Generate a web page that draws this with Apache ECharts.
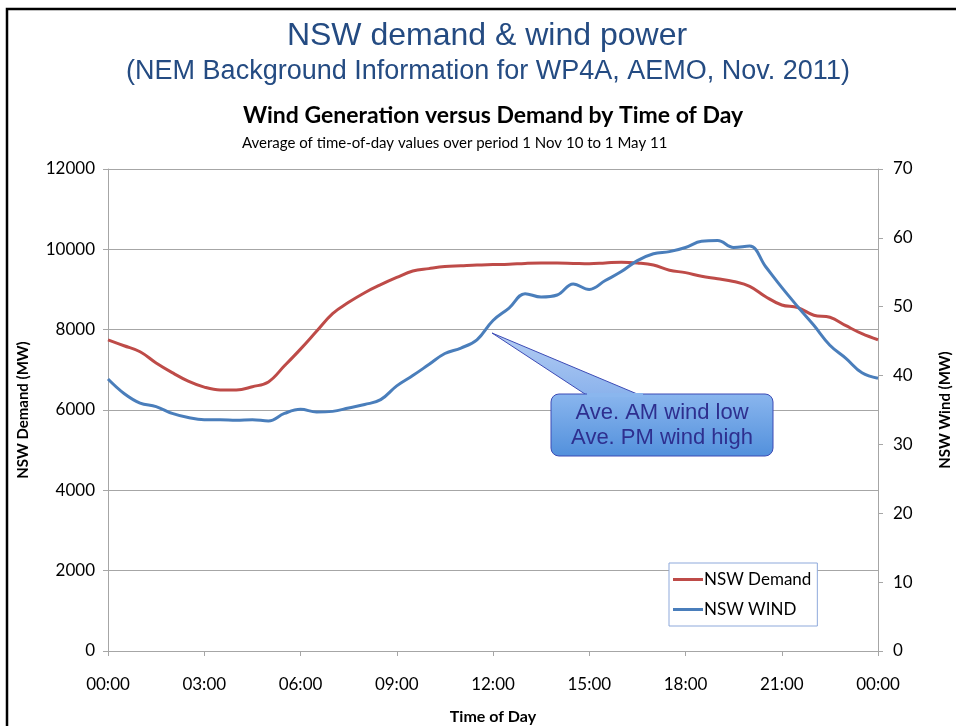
<!DOCTYPE html>
<html>
<head>
<meta charset="utf-8">
<script src="https://cdn.jsdelivr.net/npm/echarts@6/dist/echarts.min.js"></script>
<style>
html,body{margin:0;padding:0;background:#fff;overflow:hidden;}
#chart{width:956px;height:726px;}
</style>
</head>
<body>
<div id="chart"></div>
<script>
// Half-hour time points (00:00 .. 24:00)
const timeLabels = ["00:00","00:30","01:00","01:30","02:00","02:30","03:00","03:30","04:00","04:30","05:00","05:30",
  "06:00","06:30","07:00","07:30","08:00","08:30","09:00","09:30","10:00","10:30","11:00","11:30",
  "12:00","12:30","13:00","13:30","14:00","14:30","15:00","15:30","16:00","16:30","17:00","17:30",
  "18:00","18:30","19:00","19:30","20:00","20:30","21:00","21:30","22:00","22:30","23:00","23:30","00:00"];

// NSW Demand (MW), left axis
const demand = [7744,7600,7450,7170,6930,6720,6570,6500,6500,6580,6700,7100,
  7516,7960,8400,8680,8920,9120,9300,9460,9520,9570,9590,9610,
  9620,9630,9650,9660,9660,9650,9640,9660,9680,9660,9610,9480,
  9420,9330,9270,9200,9080,8820,8615,8550,8360,8310,8100,7900,7750];

// NSW Wind (MW), right axis
const wind = [39.5,37.4,36.0,35.5,34.5,33.9,33.6,33.6,33.5,33.6,33.4,34.5,
  35.1,34.7,34.8,35.3,35.8,36.5,38.5,40.0,41.6,43.2,44.0,45.2,
  48.0,49.8,51.9,51.4,51.7,53.3,52.5,53.8,55.1,56.7,57.7,58.0,
  58.6,59.5,59.6,58.6,58.8,55.8,52.8,50.0,47.3,44.4,42.5,40.4,39.6];

const leftTicks = {min:0, max:12000, interval:2000};
const rightTicks = {min:0, max:70, interval:10};

const chart = echarts.init(document.getElementById('chart'), null, {renderer:'canvas'});
const lab = 'Lato, "Open Sans", sans-serif';
const arial = '"Liberation Sans", Arial, sans-serif';
const gridLine = '#A6A6A6';

chart.setOption({
  backgroundColor:'#ffffff',
  animation:false,
  title:[
    {text:'NSW demand & wind power', left:482, top:15, textAlign:'center',
     textStyle:{fontFamily:arial, fontSize:32, fontWeight:'normal', color:'#244B82'}},
    {text:'(NEM Background Information for WP4A, AEMO, Nov. 2011)', left:483, top:53, textAlign:'center',
     textStyle:{fontFamily:arial, fontSize:27, fontWeight:'normal', color:'#244B82'}},
    {text:'Wind Generation versus Demand by Time of Day', left:488, top:99, textAlign:'center',
     textStyle:{fontFamily:lab, fontSize:23, fontWeight:'bold', color:'#000'}},
    {text:'Average of time-of-day values over period 1 Nov 10 to 1 May 11', left:237, top:131,
     textStyle:{fontFamily:lab, fontSize:15, fontWeight:'normal', color:'#000'}}
  ],
  grid:{left:108, right:78, top:169, bottom:75, containLabel:false, outerBoundsMode:'none'},
  legend:{
    orient:'vertical', left:669, top:563, width:151,
    padding:[8,6,8,4], itemGap:13,
    backgroundColor:'#fff', borderColor:'#8EA9DB', borderWidth:1,
    icon:'rect', itemWidth:30, itemHeight:3,
    textStyle:{fontFamily:lab, fontSize:17, color:'#000', padding:[0,0,0,-4]},
    data:['NSW Demand','NSW WIND']
  },
  xAxis:{
    type:'category', data:timeLabels, boundaryGap:false,
    name:'Time of Day', nameLocation:'middle', nameGap:58,
    nameTextStyle:{fontFamily:lab, fontSize:16, fontWeight:'bold', color:'#000'},
    axisLine:{lineStyle:{color:gridLine, width:1}},
    axisTick:{show:true, interval:5, length:5, lineStyle:{color:gridLine}},
    axisLabel:{interval:5, margin:25, fontFamily:lab, fontSize:17, color:'#000'},
    splitLine:{show:false}
  },
  yAxis:[
    {type:'value', position:'left', min:leftTicks.min, max:leftTicks.max, interval:leftTicks.interval,
     name:'NSW Demand (MW)', nameLocation:'middle', nameGap:77, nameRotate:90,
     nameTextStyle:{fontFamily:lab, fontSize:15, fontWeight:'bold', color:'#000'},
     axisLine:{show:true, lineStyle:{color:gridLine}},
     axisTick:{show:true, length:5, lineStyle:{color:gridLine}},
     axisLabel:{margin:13, fontFamily:lab, fontSize:17, color:'#000', formatter:v=>String(v)},
     splitLine:{show:true, lineStyle:{color:gridLine, width:1}}},
    {type:'value', position:'right', min:rightTicks.min, max:rightTicks.max, interval:rightTicks.interval,
     name:'NSW Wind (MW)', nameLocation:'middle', nameGap:60, nameRotate:90,
     nameTextStyle:{fontFamily:lab, fontSize:15, fontWeight:'bold', color:'#000'},
     axisLine:{show:true, lineStyle:{color:gridLine}},
     axisTick:{show:true, length:5, lineStyle:{color:gridLine}},
     axisLabel:{margin:15, fontFamily:lab, fontSize:17, color:'#000'},
     splitLine:{show:false}}
  ],
  series:[
    {name:'NSW Demand', type:'line', yAxisIndex:0, data:demand, smooth:0.4, showSymbol:false,
     lineStyle:{color:'#BE4B48', width:3}, itemStyle:{color:'#BE4B48'}, z:3},
    {name:'NSW WIND', type:'line', yAxisIndex:1, data:wind, smooth:0.4, showSymbol:false,
     lineStyle:{color:'#4A7EBB', width:3}, itemStyle:{color:'#4A7EBB'}, z:4}
  ],
  graphic:[
    {type:'rect', shape:{x:7, y:9, width:1200, height:1200}, style:{fill:'none', stroke:'#000', lineWidth:2.5}, z:100, silent:true},
    {type:'polygon', shape:{points:[[492,333],[588,396],[642,396]]},
     style:{fill:{type:'linear',x:0,y:0,x2:0,y2:1,colorStops:[{offset:0,color:'#B4CDF3'},{offset:1,color:'#8AB2EC'}]}, stroke:'#3D4BB5', lineWidth:1}, z:50},
    {type:'rect', shape:{x:551, y:394, width:222, height:62, r:8},
     style:{fill:{type:'linear',x:0,y:0,x2:0,y2:1,colorStops:[{offset:0,color:'#8AB6EE'},{offset:1,color:'#5290DC'}]}, stroke:'#3D4BB5', lineWidth:1}, z:51},
    {type:'rect', shape:{x:587, y:393, width:56, height:4}, style:{fill:'#8AB6EE'}, z:52},
    {type:'text', x:662, y:425, z:60,
     style:{text:'Ave. AM wind low\nAve. PM wind high', align:'center', verticalAlign:'middle',
       fontFamily:'"Liberation Sans", Arial, sans-serif', fontSize:22, fill:'#2E2F8F', lineHeight:25}}
  ]
});
</script>
</body>
</html>
